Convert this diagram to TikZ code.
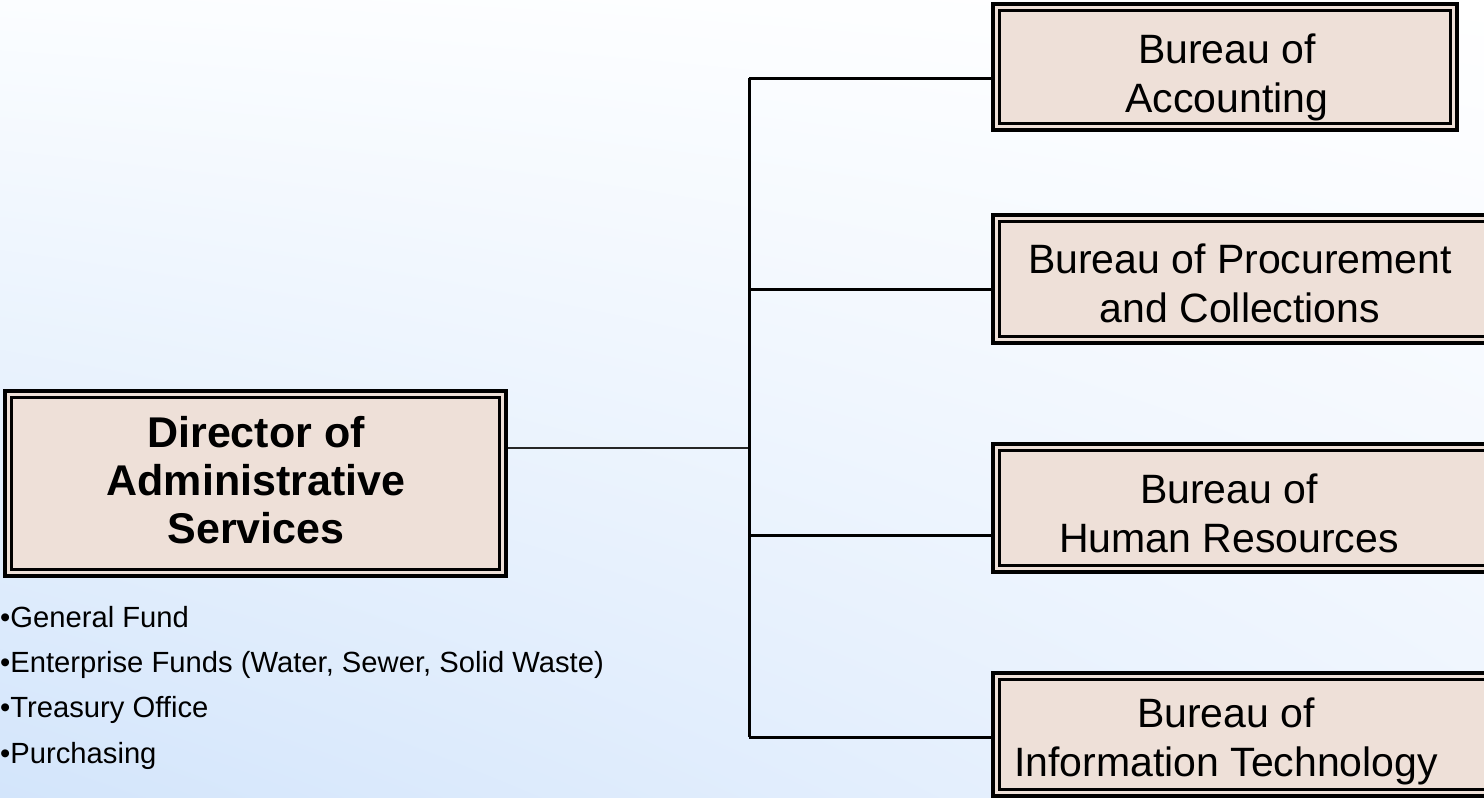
\documentclass[tikz,border=0pt]{standalone}
\usepackage{fontspec}
\setmainfont{Liberation Sans}
\usetikzlibrary{shadings}
\definecolor{boxfill}{HTML}{EEE0D8}
\definecolor{bgA}{HTML}{FFFFFF}
\definecolor{bgB}{HTML}{FBFDFF}
\definecolor{bgC}{HTML}{D3E5FB}
\definecolor{bgD}{HTML}{EDF4FE}
\tikzset{
  orgbox/.style={draw=black, line width=3.2pt, fill=boxfill, inner sep=0pt,
    path picture={\draw[line width=2.2pt]
      ([shift={(6.5pt,-6.5pt)}]path picture bounding box.north west) rectangle
      ([shift={(-6.5pt,6.5pt)}]path picture bounding box.south east);}},
  btext/.style={inner sep=0pt, align=center, font=\fontsize{41}{49}\selectfont},
  dtext/.style={inner sep=0pt, align=center, font=\fontsize{43}{48}\selectfont\bfseries},
  ltext/.style={inner sep=0pt, align=left, anchor=north west, font=\fontsize{29.2}{45.3}\selectfont},
  conn/.style={draw=black, line width=3pt},
  dconn/.style={draw=black!85, line width=2.2pt}
}
\begin{document}
\begin{tikzpicture}[x=1pt, y=-1pt]
\useasboundingbox (0,0) rectangle (1484,798);
\clip (0,0) rectangle (1484,798);
\shade[upper left=bgB, upper right=bgA, lower left=bgC, lower right=bgD] (0,0) rectangle (1484,798);

% boxes
\node[orgbox, minimum width=501pt, minimum height=185pt] (dir) at (255.5,483.5) {};
\node[orgbox, minimum width=464pt, minimum height=126pt] (acct) at (1225,67) {};
\node[orgbox, minimum width=537pt, minimum height=128pt] (proc) at (1261.5,279) {};
\node[orgbox, minimum width=537pt, minimum height=128pt] (hr) at (1261.5,508) {};
\node[orgbox, minimum width=537pt, minimum height=123pt] (it) at (1261.5,734.5) {};

% texts
\node[dtext] (dirt) at (256,485.4) {\strut Director of\\\strut Administrative\\\strut Services};
\node[btext] (acctt) at (1227,77.7) {\strut Bureau of\\\strut Accounting};
\node[btext] (proct) at (1240,287.7) {\strut Bureau of Procurement\\\strut and Collections};
\node[btext] (hrt) at (1229,517.7) {\strut Bureau of\\\strut Human Resources};
\node[btext] (itt) at (1226,741.7) {\strut Bureau of\\\strut Information Technology};
\node[ltext] (funds) at (0,595.3) {\strut •General Fund\\\strut •Enterprise Funds (Water, Sewer, Solid Waste)\\\strut •Treasury Office\\\strut •Purchasing};

% connectors
\coordinate (jA) at (749,78);
\coordinate (jP) at (749,289);
\coordinate (jD) at (749,448);
\coordinate (jH) at (749,535);
\coordinate (jI) at (749,737);
\draw[dconn] (jD -| dir.east) -- (jD);
\draw[conn] (jA) -- (jI);
\draw[conn] (jA) -- (jA -| acct.west);
\draw[conn] (jP) -- (jP -| proc.west);
\draw[conn] (jH) -- (jH -| hr.west);
\draw[conn] (jI) -- (jI -| it.west);
\end{tikzpicture}
\end{document}
